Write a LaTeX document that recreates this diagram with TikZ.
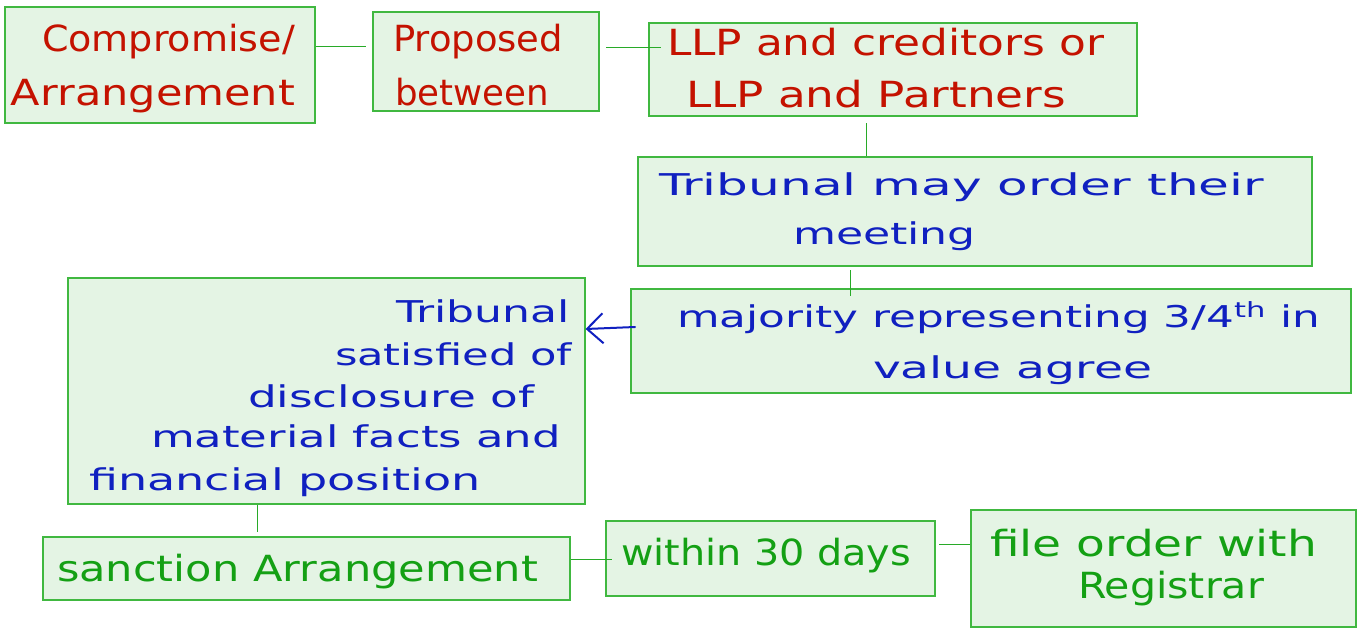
\documentclass[tikz,border=0pt]{standalone}
\usepackage{fontspec}
\setmainfont{DejaVu Sans}
\usepackage{graphicx}
\usetikzlibrary{arrows.meta}
\definecolor{boxfill}{RGB}{228,244,228}
\definecolor{boxdraw}{RGB}{64,184,64}
\definecolor{linkcol}{RGB}{40,170,40}
\definecolor{hwred}{RGB}{196,18,0}
\definecolor{hwblue}{RGB}{16,32,192}
\definecolor{hwgreen}{RGB}{20,160,20}
\newcommand{\hw}[2]{\resizebox{#1pt}{\height}{#2}}
\tikzset{
  box/.style={draw=boxdraw, fill=boxfill, line width=1.1pt, inner sep=0pt},
  tx/.style={anchor=base west, inner sep=0pt, outer sep=0pt},
  redtx/.style={tx, text=hwred, font=\fontsize{36}{36}\selectfont},
  bluetx/.style={tx, text=hwblue, font=\fontsize{30}{30}\selectfont},
  greentx/.style={tx, text=hwgreen, font=\fontsize{36}{36}\selectfont},
  link/.style={draw=linkcol, line width=1pt},
  barrow/.style={draw=hwblue, line width=2pt, line cap=round, -{Straight Barb[length=16pt, width=30pt, line width=2pt]}}
}
\begin{document}
\begin{tikzpicture}[x=1pt, y=-1pt]
\useasboundingbox (0,0) rectangle (1357,642);
% boxes
\node[box, minimum width=310pt, minimum height=116pt] (b1) at (160,65) {};
\node[box, minimum width=226pt, minimum height=99pt] (b2) at (486,61.5) {};
\node[box, minimum width=488pt, minimum height=93pt] (b3) at (893,69.5) {};
\node[box, minimum width=674pt, minimum height=109pt] (b4) at (975,211.5) {};
\node[box, minimum width=720pt, minimum height=104pt] (b5) at (991,341) {};
\node[box, minimum width=517pt, minimum height=226pt] (b6) at (326.5,391) {};
\node[box, minimum width=527pt, minimum height=63pt] (b7) at (306.5,568.5) {};
\node[box, minimum width=329pt, minimum height=75pt] (b8) at (770.5,558.5) {};
\node[box, minimum width=385pt, minimum height=117pt] (b9) at (1163.5,568.5) {};
% connector coordinates
\coordinate (c12) at (366,47);
\coordinate (c23s) at (606,48);
\coordinate (c23e) at (661,48);
\coordinate (c34) at (866,123);
\coordinate (c45s) at (850,270);
\coordinate (c45e) at (850,296);
\coordinate (c67) at (257,532);
\coordinate (c78) at (612,559);
\coordinate (c89s) at (939,544);
\coordinate (a56) at (635,327);
% connectors
\draw[link] (b1.east |- c12) -- (c12);
\draw[link] (c23s) -- (c23e);
\draw[link] (c34) -- (c34 |- b4.north);
\draw[link] (c45s) -- (c45e);
\draw[link] (b6.south -| c67) -- (c67);
\draw[link] (b7.east |- c78) -- (c78);
\draw[link] (c89s) -- (b9.west |- c89s);
\draw[barrow] (a56) -- (b6.east |- 0,329);
% texts
\node[redtx] (t1a) at (42,52) {\hw{253}{Compromise/}};
\node[redtx] (t1b) at (11,105) {\hw{284}{Arrangement}};
\node[redtx] (t2a) at (393,52) {\hw{170}{Proposed}};
\node[redtx] (t2b) at (395,105) {\hw{154}{between}};
\node[redtx] (t3a) at (667,56) {\hw{437}{LLP and creditors or}};
\node[redtx] (t3b) at (686,107) {\hw{380}{LLP and Partners}};
\node[bluetx] (t4a) at (659,195) {\hw{605}{Tribunal may order their}};
\node[bluetx] (t4b) at (793,244) {\hw{183}{meeting}};
\node[bluetx] (t5a) at (677,327) {\hw{643}{majority representing 3/4\textsuperscript{th} in}};
\node[bluetx] (t5b) at (873,378) {\hw{279}{value agree}};
\node[bluetx] (t6a) at (396,322) {\hw{174}{Tribunal}};
\node[bluetx] (t6b) at (335,365) {\hw{237}{satisfied of}};
\node[bluetx] (t6c) at (248,407) {\hw{286}{disclosure of}};
\node[bluetx] (t6d) at (151,447) {\hw{410}{material facts and}};
\node[bluetx] (t6e) at (89,490) {\hw{392}{financial position}};
\node[greentx] (t7) at (57,581) {\hw{481}{sanction Arrangement}};
\node[greentx] (t8) at (621,565) {\hw{290}{within 30 days}};
\node[greentx] (t9a) at (990,556) {\hw{327}{file order with}};
\node[greentx] (t9b) at (1078,598) {\hw{186}{Registrar}};
\end{tikzpicture}
\end{document}
